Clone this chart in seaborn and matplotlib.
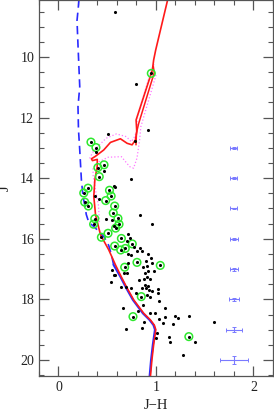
import matplotlib
matplotlib.use('Agg')
import matplotlib.pyplot as plt
import seaborn as sns
from matplotlib.ticker import MultipleLocator

sns.set_style('ticks')
plt.rcParams['font.family'] = ['Liberation Serif', 'DejaVu Serif']

# ------------------------------------------------------------
# data (J-H colour, J magnitude)
# ------------------------------------------------------------
# stars without a green ring
dot_x = [0.583, 0.791, 0.92, 0.508, 0.781, 0.389, 0.467, 0.747, 0.57, 0.576,
         0.372, 0.416, 0.491, 0.549, 0.839, 0.955, 0.573, 0.713, 0.737, 0.706,
         0.771, 0.832, 0.805, 0.856, 0.747, 0.713, 0.918, 0.952, 0.958, 0.907,
         0.866, 0.894, 0.713, 0.668, 0.706, 0.976, 0.918, 0.883, 0.934, 0.907,
         0.877, 0.822, 0.552, 0.566, 0.583, 0.542, 0.645, 0.696, 0.883, 0.918,
         0.90, 0.859, 0.928, 0.962, 1.023, 1.023, 0.907, 0.934, 0.791, 0.747,
         0.866, 0.815, 1.027, 1.088, 0.662, 0.934, 0.985, 1.03, 1.088, 1.19,
         1.225, 1.337, 1.60, 0.873, 1.071, 1.173, 0.859, 0.689, 1.01, 1.133,
         1.146, 1.0, 1.395, 1.275]
dot_j = [8.53, 10.89, 12.42, 12.55, 12.78, 13.15, 13.78, 14.03, 14.25, 14.29,
         14.60, 14.69, 15.35, 15.38, 15.22, 15.50, 15.57, 15.84, 15.97, 16.06,
         16.26, 16.31, 16.39, 16.39, 16.53, 16.50, 16.50, 16.64, 16.81, 16.89,
         16.92, 16.75, 16.79, 17.12, 17.12, 17.08, 17.05, 17.14, 17.34, 17.25,
         17.34, 17.36, 17.03, 17.19, 17.21, 17.44, 17.60, 17.60, 17.52, 17.56,
         17.63, 17.63, 17.69, 17.71, 17.65, 17.78, 17.85, 17.91, 17.78, 17.61,
         18.18, 18.38, 18.07, 18.29, 18.30, 18.46, 18.46, 18.65, 18.57, 18.54,
         18.60, 18.54, 18.74, 18.76, 18.79, 18.82, 18.96, 18.98, 19.12, 19.23,
         19.42, 19.29, 19.42, 19.84]

# stars marked with a green ring
ring_x = [0.952, 0.333, 0.384, 0.404, 0.467, 0.418, 0.303, 0.259, 0.523, 0.540,
          0.484, 0.269, 0.306, 0.576, 0.562, 0.61, 0.621, 0.586, 0.372, 0.36,
          0.44, 0.508, 0.645, 0.757, 0.576, 0.638, 0.685, 0.805, 0.679, 1.044,
          0.849, 0.764, 1.337]
ring_j = [10.54, 12.81, 12.99, 13.65, 13.56, 13.95, 14.33, 14.49, 14.40, 14.59,
          14.74, 14.79, 14.92, 14.92, 15.15, 15.33, 15.52, 15.65, 15.34, 15.52,
          15.95, 15.82, 15.99, 16.17, 16.24, 16.37, 16.32, 16.78, 16.94, 16.88,
          17.91, 18.57, 19.23]

# isochrone (red, solid): main sequence -> turnoff hook -> giant branch
iso_x = [0.935, 0.95, 0.968, 0.99, 0.975, 0.935, 0.866, 0.764, 0.696, 0.635,
         0.576, 0.508, 0.423, 0.372, 0.354, 0.365, 0.389, 0.39, 0.34, 0.33,
         0.37, 0.456, 0.525, 0.627, 0.696, 0.747, 0.781, 0.795, 0.788, 0.955,
         0.968, 0.989, 1.12]
iso_j = [20.55, 20.0, 19.5, 19.0, 18.85, 18.68, 18.46, 18.02, 17.63, 17.25,
         16.86, 16.37, 15.87, 15.21, 14.6, 14.06, 13.62, 13.38, 13.42, 13.36,
         13.28, 13.07, 12.82, 12.70, 12.85, 12.90, 12.74, 12.47, 12.08, 10.43,
         10.10, 9.77, 8.0]
# second (returning) branch of the red isochrone
agb_x = [0.795, 0.80, 0.822, 0.982, 0.972]
agb_j = [12.9, 12.5, 12.2, 10.52, 10.3]

# dotted magenta isochrones either side
up_x = [0.32, 0.35, 0.389, 0.49, 0.594, 0.696, 0.747, 0.781, 0.815, 0.80, 0.95, 0.985]
up_j = [13.35, 13.15, 13.0, 12.68, 12.54, 12.63, 12.80, 12.63, 12.30, 12.05, 10.45, 10.2]
lo_x = [0.42, 0.41, 0.38, 0.355, 0.354, 0.42, 0.508, 0.645, 0.73, 0.77, 0.805,
        0.832, 0.845, 1.0]
lo_j = [15.45, 14.9, 14.4, 13.9, 13.67, 13.45, 13.31, 13.29, 13.62, 13.67, 13.34,
        12.74, 12.3, 10.6]

# blue isochrone: dashed upper part, solid below where it meets the red one
blue_x = [0.21, 0.205, 0.19, 0.20, 0.218, 0.20, 0.205, 0.218, 0.235, 0.252,
          0.27, 0.285, 0.31, 0.37, 0.42, 0.47, 0.515, 0.545, 0.565]
blue_j = [8.1, 8.3, 8.8, 9.6, 10.98, 11.64, 12.4, 13.07, 14.06, 14.61,
          14.9, 15.2, 15.45, 15.62, 15.78, 15.95, 16.22, 16.55, 16.86]
blue_lo_x = [0.565, 0.635, 0.696, 0.764, 0.866, 0.935, 0.975, 0.99, 0.968, 0.95, 0.935]
blue_lo_j = [16.86, 17.25, 17.63, 18.02, 18.46, 18.68, 18.85, 19.0, 19.5, 20.0, 20.55]

# photometric error bars
err_j = [13, 14, 15, 16, 17, 18, 19, 20]
err_xe = [0.036, 0.036, 0.036, 0.038, 0.043, 0.056, 0.078, 0.143]
err_je = [0.03, 0.03, 0.03, 0.04, 0.05, 0.06, 0.08, 0.13]
err_col = 1.8

# ------------------------------------------------------------
# plot
# ------------------------------------------------------------
fig = plt.figure(figsize=(2.74, 4.17), dpi=100)
ax = fig.add_axes([0.1423, 0.0983, 0.854, 0.9017])

sns.lineplot(x=blue_x, y=blue_j, sort=False, estimator=None, color='#2a2aff',
             lw=1.2, linestyle=(0, (5, 3)), ax=ax)
sns.lineplot(x=blue_lo_x, y=blue_lo_j, sort=False, estimator=None, color='#2a2aff',
             lw=1.6, ax=ax)
sns.lineplot(x=up_x, y=up_j, sort=False, estimator=None, color='#ff77ff',
             lw=0.9, linestyle=':', ax=ax)
sns.lineplot(x=lo_x, y=lo_j, sort=False, estimator=None, color='#ff77ff',
             lw=0.9, linestyle=':', ax=ax)
sns.lineplot(x=[v + 0.008 for v in iso_x], y=iso_j, sort=False, estimator=None,
             color='#ff1a1a', lw=1.2, ax=ax)
sns.lineplot(x=agb_x, y=agb_j, sort=False, estimator=None, color='#ff1a1a',
             lw=1.1, ax=ax)

sns.scatterplot(x=ring_x, y=ring_j, marker='o', s=30, facecolor='none',
                edgecolor='#2ee82e', linewidth=1.1, ax=ax, zorder=4)
sns.scatterplot(x=dot_x + ring_x, y=dot_j + ring_j, marker='o', s=5,
                color='black', linewidth=0, ax=ax, zorder=5)

ax.errorbar([err_col] * len(err_j), err_j, xerr=err_xe, yerr=err_je, fmt='none',
            ecolor='#7a7aff', elinewidth=0.8, capsize=1.2, capthick=0.7)

ax.set_xlim(-0.2, 2.2)
ax.set_ylim(20.53, 8.12)
ax.set_xticks([0, 1, 2])
ax.set_yticks([10, 12, 14, 16, 18, 20])
ax.xaxis.set_minor_locator(MultipleLocator(0.2))
ax.yaxis.set_minor_locator(MultipleLocator(0.5))
ax.tick_params(which='both', direction='in', top=True, right=True,
               color='#555555', labelsize=10, labelcolor='#222222')
ax.tick_params(which='major', length=7, width=0.9)
ax.tick_params(which='minor', length=3.5, width=0.8)
for sp in ax.spines.values():
    sp.set_color('#555555')
    sp.set_linewidth(0.9)

ax.set_xlabel('J\u2212H', fontsize=10.5, color='#222222', labelpad=4)
ax.set_ylabel('J', fontsize=10.5, color='#222222', labelpad=6)

fig.savefig('out.png', dpi=100)
